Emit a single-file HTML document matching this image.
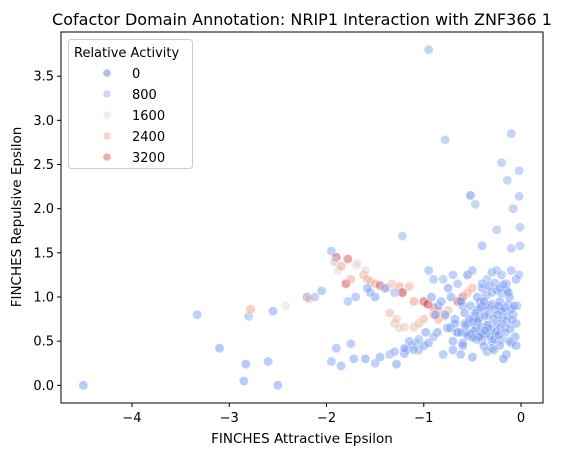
<!DOCTYPE html>
<html><head><meta charset="utf-8"><style>
body{margin:0;background:#fff;font-family:"Liberation Sans","DejaVu Sans",sans-serif}
svg text{font-family:"DejaVu Sans","Liberation Sans",sans-serif}
</style></head><body>
<svg id="chart" width="578" height="455" xmlns="http://www.w3.org/2000/svg">
<text x="302" y="25" font-size="16" text-anchor="middle">Cofactor Domain Annotation: NRIP1 Interaction with ZNF366 1</text>
<g id="points"></g>
<rect x="61" y="32" width="482" height="371" fill="none" stroke="#000" stroke-width="1"/>
<g id="xt"></g>
<g id="yt"></g>
<text x="302" y="443" font-size="13.5" text-anchor="middle">FINCHES Attractive Epsilon</text>
<text transform="translate(21,217) rotate(-90)" font-size="13.5" text-anchor="middle">FINCHES Repulsive Epsilon</text>
<g>
<rect x="68.5" y="39.5" width="124" height="129" rx="3" fill="#fff" fill-opacity="0.8" stroke="#ccc"/>
<text x="74" y="57" font-size="13">Relative Activity</text>
<g id="leg"></g>
</g>
</svg>
<script>
const xTicks=[-4,-3,-2,-1,0];
const yTicks=[0.0,0.5,1.0,1.5,2.0,2.5,3.0,3.5];
const legendValues=[0,800,1600,2400,3200];
const xs=[-4.5,-3.33,-3.1,-2.85,-2.83,-2.8,-2.78,-2.6,-2.55,-2.5,-2.42,-2.2,-2.18,-2.12,-2.05,-0.95,-0.1,-0.78,-0.2,-0.02,-0.14,-0.52,-0.47,-0.02,-0.08,-1.22,-0.25,-0.4,-0.1,-0.01,-0.01,
-1.95,-1.9,-1.78,-1.8,-1.75,-1.7,-1.62,-1.58,-1.55,-1.5,-1.45,-1.38,-1.33,-1.25,-1.22,-1.15,-1.1,-1.0,-0.96,-0.9,-0.85,-0.75,-0.65,-0.6,-0.55,-0.5,-1.3,-1.25,-1.2,-1.1,-1.05,-1.0,-0.9,-0.85,-0.78,-1.35,-1.28,-1.88,-1.92,-1.85,-1.68,-1.6,
-1.95,-1.9,-1.85,-1.75,-1.72,-1.6,-1.5,-1.45,-1.35,-1.3,-1.28,-1.2,-1.18,-1.12,-1.08,-1.05,-1.3,-1.4,-1.5,-1.55,-1.58,-1.7,-1.78,
-0.95,-0.9,-0.85,-0.8,-0.75,-0.7,-0.65,-0.6,-0.55,-0.5,-0.45,-0.4,-0.35,-0.3,-0.25,-0.2,-0.15,-0.1,-0.05,-0.02,
-0.92,-0.82,-0.72,-0.62,-0.52,-0.42,-0.32,-0.22,-0.12,-0.04,
-0.88,-0.78,-0.68,-0.58,-0.48,-0.38,-0.28,-0.18,-0.08,
-0.86,-0.76,-0.66,-0.56,-0.46,-0.36,-0.26,-0.16,-0.06,
-0.7,-0.6,-0.5,-0.4,-0.3,-0.2,-0.1,-0.55,-0.45,-0.35,-0.25,-0.15,-0.05,
-1.15,-1.05,-1.0,-0.95,-1.1,-1.2,-0.98,-0.9,-0.8,-0.7,-0.6,-0.35,-0.3,-0.22,-0.15,-0.12,-0.05,-0.42,-0.28,-0.18,-0.62,-0.5,-0.38,
-0.45,-0.4,-0.35,-0.3,-0.27,-0.23,-0.2,-0.17,-0.13,-0.1,-0.07,-0.5,-0.44,-0.37,-0.33,-0.29,-0.24,-0.19,-0.14,-0.09,-0.48,-0.41,-0.34,-0.31,-0.26,-0.21,-0.11,-0.43,-0.39,-0.32,-0.28,-0.23,-0.16,-0.36,-0.3,-0.25,-0.2,-0.15,-0.4,-0.33,-0.27,-0.22,-0.18,-0.13,-0.58,-0.53,-0.47,-0.42,-0.38,-0.34,-0.65,-0.57,-0.51,-0.46,-0.43,-0.37,-0.73,-0.68,-0.62,-0.55,-0.49];
const ys=[0.0,0.8,0.42,0.05,0.24,0.78,0.86,0.27,0.84,0.0,0.9,1.0,0.98,1.0,1.07,3.8,2.85,2.78,2.52,2.43,2.32,2.15,2.05,2.14,2.0,1.69,1.76,1.58,1.55,1.58,1.79,
1.52,1.45,1.43,1.15,1.2,1.36,1.25,1.2,1.18,1.15,1.13,1.1,1.15,1.12,1.05,1.12,0.95,0.95,0.92,0.88,0.85,0.85,0.95,1.0,1.05,1.1,0.7,0.65,0.66,0.66,0.7,0.75,0.8,0.75,0.78,0.82,0.75,1.3,1.4,1.35,1.38,1.3,
0.27,0.42,0.22,0.47,0.3,0.3,0.25,0.32,0.35,0.38,0.24,0.36,0.4,0.45,0.48,0.4,1.05,1.1,1.0,1.05,1.1,1.0,0.95,
1.3,1.2,0.9,1.2,1.1,1.25,1.15,0.9,1.25,1.3,1.0,1.1,1.2,1.28,1.3,1.25,1.15,1.3,1.2,1.25,
1.0,0.95,1.0,0.95,0.9,0.95,0.9,0.95,1.0,0.9,
0.8,0.8,0.75,0.82,0.78,0.8,0.75,0.85,0.8,
0.6,0.65,0.6,0.6,0.65,0.58,0.62,0.65,0.55,
0.5,0.48,0.55,0.5,0.5,0.52,0.48,0.7,0.72,0.68,0.7,0.72,0.7,
0.5,0.52,0.45,0.48,0.4,0.42,0.6,0.55,0.35,0.4,0.45,0.38,0.42,0.45,0.35,0.5,0.45,0.58,0.4,0.3,0.35,0.32,0.44,
0.85,0.9,0.88,0.92,0.86,0.9,0.84,0.88,0.92,0.86,0.9,0.72,0.75,0.78,0.8,0.76,0.8,0.74,0.78,0.74,0.62,0.66,0.68,0.64,0.6,0.66,0.64,0.55,0.58,0.56,0.52,0.57,0.6,1.02,1.05,1.08,1.04,1.08,1.15,1.12,1.16,1.1,1.14,1.05,0.7,0.75,0.82,0.88,0.95,0.65,0.6,0.68,0.58,0.52,0.55,0.62,0.65,0.7,0.6,0.56,0.54];
const acts=[300,500,300,300,300,700,2700,400,400,400,1600,200,2400,700,500,600,600,700,700,700,700,100,700,600,600,700,700,500,700,700,700,
500,3400,3300,3400,2600,1600,2500,2600,2300,2600,3300,2400,2200,2700,3600,2500,2800,3400,3600,3000,2400,2300,3300,3200,2600,2500,2200,2100,2000,2200,2300,2400,2500,2700,2200,2300,2100,1500,1200,2700,1700,1800,
500,500,400,500,400,300,500,400,700,500,300,300,400,500,600,500,600,400,300,500,400,500,600,
500,600,400,700,300,500,600,400,100,500,300,400,600,500,700,600,500,600,400,700,
300,400,300,200,400,300,500,400,300,600,
200,300,400,300,500,200,300,400,500,
300,400,300,200,400,300,500,400,300,
300,400,500,300,400,500,400,300,200,400,300,500,400,
500,600,400,300,500,400,300,600,500,400,300,500,400,300,500,600,300,400,500,300,400,300,500,
300,500,400,600,300,200,500,400,600,300,500,400,300,600,500,1200,400,300,500,600,300,500,400,700,300,500,400,600,300,500,400,300,600,
400,500,300,600,400,500,300,500,600,400,300,500,400,600,500,300,500,400,600,300,500,400,500,300,400,500,300,600];
const X0=-4.73,X1=0.226,Y0=-0.2,Y1=4.0,L=61,R=543,T=32,B=403;
function sx(v){return L+(v-X0)/(X1-X0)*(R-L);}
function sy(v){return B-(v-Y0)/(Y1-Y0)*(B-T);}
const stops=[[59,76,192],[123,159,249],[221,221,221],[244,154,123],[180,4,38]];
function cw(a){if(!isFinite(a))a=400;let t=Math.max(0,Math.min(1,(a+700)/4600))*4,i=Math.min(3,Math.floor(t)),f=t-i;
const c=stops[i].map((v,k)=>Math.round(v+(stops[i+1][k]-v)*f));return `rgb(${c})`;}
const NS="http://www.w3.org/2000/svg";
const pg=document.getElementById('points');
const n=Math.min(xs.length,ys.length,acts.length);
for(let i=0;i<n;i++){const c=document.createElementNS(NS,'circle');
c.setAttribute('cx',sx(xs[i]));c.setAttribute('cy',sy(ys[i]));c.setAttribute('r',4.6);
c.setAttribute('fill',cw(acts[i]));c.setAttribute('fill-opacity',0.5);c.setAttribute('stroke','#fff');c.setAttribute('stroke-opacity',0.6);c.setAttribute('stroke-width',0.6);


pg.appendChild(c);}
const xt=document.getElementById('xt');
xTicks.forEach(v=>{const x=sx(v);
const l=document.createElementNS(NS,'line');l.setAttribute('x1',x);l.setAttribute('x2',x);l.setAttribute('y1',B);l.setAttribute('y2',B+4);l.setAttribute('stroke','#000');xt.appendChild(l);
const t=document.createElementNS(NS,'text');t.setAttribute('x',x);t.setAttribute('y',B+19);t.setAttribute('font-size',13);t.setAttribute('text-anchor','middle');t.textContent=v<0?'\u2212'+(-v):v;


xt.appendChild(t);});
const yt=document.getElementById('yt');
yTicks.forEach(v=>{const y=sy(v);
const l=document.createElementNS(NS,'line');l.setAttribute('x1',L-4);l.setAttribute('x2',L);l.setAttribute('y1',y);l.setAttribute('y2',y);l.setAttribute('stroke','#000');yt.appendChild(l);
const t=document.createElementNS(NS,'text');t.setAttribute('x',L-7);t.setAttribute('y',y+4.5);t.setAttribute('font-size',13);t.setAttribute('text-anchor','end');t.textContent=v.toFixed(1);


yt.appendChild(t);});
const lg=document.getElementById('leg');
legendValues.forEach((v,i)=>{const y=73+i*21;
const c=document.createElementNS(NS,'circle');c.setAttribute('cx',107);c.setAttribute('cy',y);c.setAttribute('r',3.8);c.setAttribute('fill',cw(v));c.setAttribute('fill-opacity',0.5);


lg.appendChild(c);
const t=document.createElementNS(NS,'text');t.setAttribute('x',132);t.setAttribute('y',y+5);t.setAttribute('font-size',13);t.textContent=v;


lg.appendChild(t);});
</script>
</body></html>
